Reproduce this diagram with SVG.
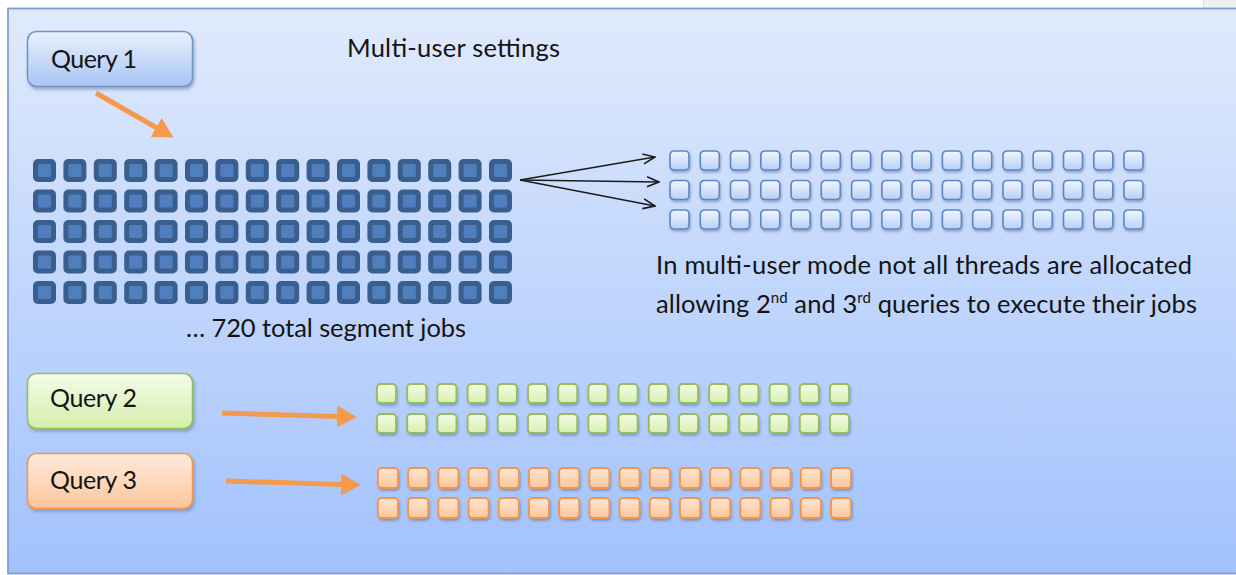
<svg xmlns="http://www.w3.org/2000/svg" xmlns:xlink="http://www.w3.org/1999/xlink" width="1236" height="575" viewBox="0 0 1236 575">
<defs>
<style>
.t{font-family:Lato,"Open Sans","Liberation Sans",sans-serif;fill:#141414}
.lbl{font-size:25px}
.body{font-size:25.5px}
.conn-o{fill:none;stroke:#f59a4c;stroke-width:5}
.conn-k{fill:none;stroke:#1c1c1c;stroke-width:1.6}
</style>
<linearGradient id="bg" x1="0" y1="0" x2="0" y2="1">
<stop offset="0" stop-color="#e0eafc"/>
<stop offset="1" stop-color="#a2c2fc"/>
</linearGradient>
<linearGradient id="gq1" x1="0" y1="0" x2="0" y2="1">
<stop offset="0" stop-color="#e9f0fd"/>
<stop offset="1" stop-color="#a8c5f4"/>
</linearGradient>
<linearGradient id="gq2" x1="0" y1="0" x2="0" y2="1">
<stop offset="0" stop-color="#f4fbea"/>
<stop offset="1" stop-color="#d3efaa"/>
</linearGradient>
<linearGradient id="gq3" x1="0" y1="0" x2="0" y2="1">
<stop offset="0" stop-color="#feebdd"/>
<stop offset="1" stop-color="#fbc59b"/>
</linearGradient>
<linearGradient id="gl" x1="0" y1="0" x2="0" y2="1">
<stop offset="0" stop-color="#f2f6fe"/>
<stop offset="1" stop-color="#b8cff6"/>
</linearGradient>
<linearGradient id="gg" x1="0" y1="0" x2="0" y2="1">
<stop offset="0" stop-color="#f3fbe6"/>
<stop offset="1" stop-color="#d6f1b0"/>
</linearGradient>
<linearGradient id="go" x1="0" y1="0" x2="0" y2="1">
<stop offset="0" stop-color="#fee6d4"/>
<stop offset="1" stop-color="#fcc69b"/>
</linearGradient>
<filter id="sh" x="-20%" y="-20%" width="150%" height="160%">
<feDropShadow dx="1.5" dy="2.5" stdDeviation="1.8" flood-color="#2a4070" flood-opacity="0.35"/>
</filter>
<filter id="shs" x="-30%" y="-30%" width="170%" height="180%">
<feDropShadow dx="1" dy="2" stdDeviation="1.2" flood-color="#2a4070" flood-opacity="0.35"/>
</filter>
<marker id="ao" viewBox="0 0 20 22" refX="1" refY="11" markerWidth="20" markerHeight="22" markerUnits="userSpaceOnUse" orient="auto">
<path d="M0,0 L20,11 L0,22 Z" fill="#f59a4c"/>
</marker>
<marker id="ak" viewBox="0 0 14 12" refX="13" refY="6" markerWidth="14" markerHeight="12" markerUnits="userSpaceOnUse" orient="auto">
<path d="M1,1 L13,6 L1,11" fill="none" stroke="#1c1c1c" stroke-width="1.6"/>
</marker>
<g id="dk"><rect width="23" height="23" rx="5" fill="#3a5f8e"/><rect x="5" y="5" width="13" height="13" rx="1.5" fill="#4f80bd"/></g>
<rect id="lt" width="19" height="19" rx="4" fill="url(#gl)" stroke="#5a88c6" stroke-width="1.6" filter="url(#shs)"/>
<rect id="gr" width="19" height="19" rx="3.5" fill="url(#gg)" stroke="#98bb58" stroke-width="1.8" filter="url(#shs)"/>
<rect id="or" width="20" height="20" rx="3.5" fill="url(#go)" stroke="#f59448" stroke-width="1.8" filter="url(#shs)"/>
<g id="dkrow">
<use href="#dk" x="33"/><use href="#dk" x="63.4"/><use href="#dk" x="93.8"/><use href="#dk" x="124.2"/><use href="#dk" x="154.6"/><use href="#dk" x="185"/><use href="#dk" x="215.4"/><use href="#dk" x="245.8"/><use href="#dk" x="276.2"/><use href="#dk" x="306.6"/><use href="#dk" x="337"/><use href="#dk" x="367.4"/><use href="#dk" x="397.8"/><use href="#dk" x="428.2"/><use href="#dk" x="458.6"/><use href="#dk" x="489"/>
</g>
<g id="ltrow">
<use href="#lt" x="670"/><use href="#lt" x="700.3"/><use href="#lt" x="730.5"/><use href="#lt" x="760.8"/><use href="#lt" x="791.1"/><use href="#lt" x="821.3"/><use href="#lt" x="851.6"/><use href="#lt" x="881.9"/><use href="#lt" x="912.1"/><use href="#lt" x="942.4"/><use href="#lt" x="972.7"/><use href="#lt" x="1003"/><use href="#lt" x="1033.2"/><use href="#lt" x="1063.5"/><use href="#lt" x="1093.8"/><use href="#lt" x="1124"/>
</g>
<g id="grrow">
<use href="#gr" x="377"/><use href="#gr" x="407.2"/><use href="#gr" x="437.4"/><use href="#gr" x="467.6"/><use href="#gr" x="497.8"/><use href="#gr" x="528"/><use href="#gr" x="558.2"/><use href="#gr" x="588.4"/><use href="#gr" x="618.6"/><use href="#gr" x="648.8"/><use href="#gr" x="679"/><use href="#gr" x="709.2"/><use href="#gr" x="739.4"/><use href="#gr" x="769.6"/><use href="#gr" x="799.8"/><use href="#gr" x="830"/>
</g>
<g id="orrow">
<use href="#or" x="378"/><use href="#or" x="408.2"/><use href="#or" x="438.4"/><use href="#or" x="468.6"/><use href="#or" x="498.8"/><use href="#or" x="529"/><use href="#or" x="559.2"/><use href="#or" x="589.4"/><use href="#or" x="619.6"/><use href="#or" x="649.8"/><use href="#or" x="680"/><use href="#or" x="710.2"/><use href="#or" x="740.4"/><use href="#or" x="770.6"/><use href="#or" x="800.8"/><use href="#or" x="831"/>
</g>
</defs>

<rect x="0" y="0" width="1236" height="575" fill="#ffffff"/>
<rect x="1203" y="0" width="33" height="8" fill="#f0f0f0"/>
<line x1="1203.5" y1="0" x2="1203.5" y2="8" stroke="#dcdcdc"/>
<g id="frame">
<rect x="8" y="8.5" width="1240" height="565" fill="url(#bg)" stroke="#7d9fd2" stroke-width="1.8"/>
</g>

<text class="t body" x="347" y="57" textLength="213">Multi-user settings</text>

<g id="query1">
<rect x="27.5" y="31.5" width="165" height="55" rx="9" fill="url(#gq1)" stroke="#6e93c9" stroke-width="1.5" filter="url(#sh)"/>
<text class="t lbl" x="51" y="68" textLength="86">Query 1</text>
</g>

<g id="query2">
<rect x="27.5" y="373.5" width="165" height="55" rx="9" fill="url(#gq2)" stroke="#9bbb59" stroke-width="1.5" filter="url(#sh)"/>
<text class="t lbl" x="50" y="407" textLength="87">Query 2</text>
</g>

<g id="query3">
<rect x="27.5" y="453.5" width="165" height="55" rx="9" fill="url(#gq3)" stroke="#f59448" stroke-width="1.5" filter="url(#sh)"/>
<text class="t lbl" x="50" y="489" textLength="87">Query 3</text>
</g>

<g id="segment-jobs">
<use href="#dkrow" y="159"/>
<use href="#dkrow" y="189.5"/>
<use href="#dkrow" y="220"/>
<use href="#dkrow" y="250.5"/>
<use href="#dkrow" y="281"/>
<text class="t body" x="186" y="337" textLength="280">… 720 total segment jobs</text>
</g>

<g id="threads">
<use href="#ltrow" y="151"/>
<use href="#ltrow" y="180.5"/>
<use href="#ltrow" y="210"/>
<text class="t body" x="656" y="274" textLength="536">In multi-user mode not all threads are allocated</text>
<text class="t body" x="656" y="313" textLength="541">allowing 2<tspan font-size="15" dy="-10">nd</tspan><tspan dy="10"> and 3</tspan><tspan font-size="15" dy="-10">rd</tspan><tspan dy="10"> queries to execute their jobs</tspan></text>
</g>

<g id="query2-jobs">
<use href="#grrow" y="384"/>
<use href="#grrow" y="414"/>
</g>

<g id="query3-jobs">
<use href="#orrow" y="468"/>
<use href="#orrow" y="498"/>
</g>

<g id="connectors">
<path class="conn-o" d="M96,93 L157,128" marker-end="url(#ao)"/>
<path class="conn-o" d="M222,413 L338,416.4" marker-end="url(#ao)"/>
<path class="conn-o" d="M226,481 L342,484.4" marker-end="url(#ao)"/>
<path class="conn-k" d="M520,180 L655,157" marker-end="url(#ak)"/>
<path class="conn-k" d="M520,180 L659,182" marker-end="url(#ak)"/>
<path class="conn-k" d="M520,180 L655,206" marker-end="url(#ak)"/>
</g>
</svg>
